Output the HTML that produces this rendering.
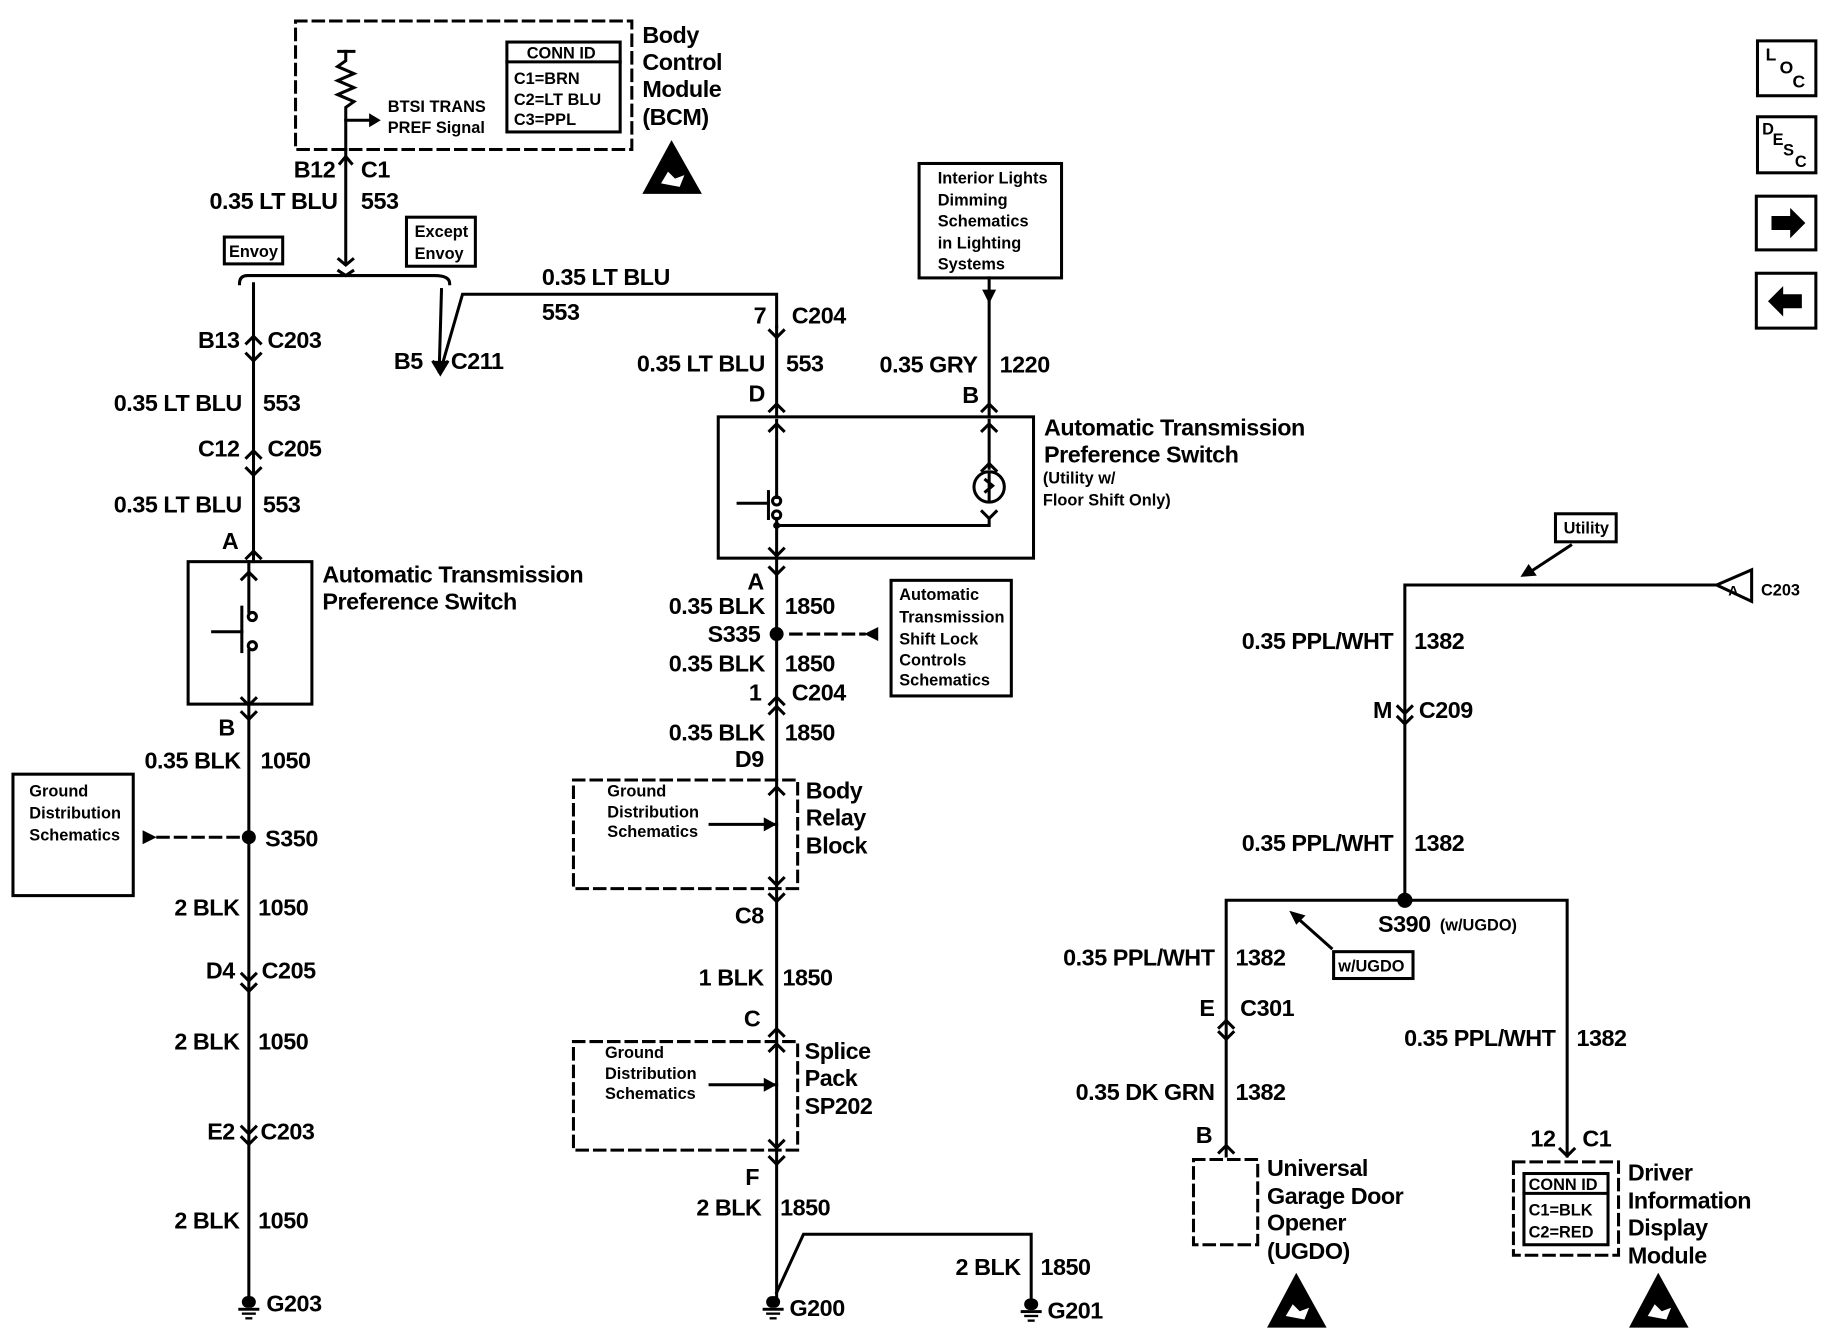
<!DOCTYPE html>
<html><head><meta charset="utf-8"><style>
html,body{margin:0;padding:0;background:#fff;}
svg{display:block}
text{font-family:"Liberation Sans",Arial,sans-serif;font-weight:bold;fill:#000}
.l{font-size:20px;letter-spacing:-0.4px}
.s{font-size:14px}
.m{font-size:15px}
</style></head><body>
<svg width="1830" height="1344" viewBox="0 0 1567 1151" xmlns="http://www.w3.org/2000/svg">
<g stroke="#000" stroke-width="2.6" fill="none" stroke-linecap="square">
<rect x="253" y="18" width="288" height="110" stroke-dasharray="9,6"/>
<rect x="434" y="36" width="97" height="77"/>
<line x1="434" y1="53" x2="531" y2="53"/>
<line x1="290" y1="44" x2="303" y2="44"/>
<polyline points="296,44 296,52 289,57 303,63 289,69 303,75 289,81 303,87 296,92 296,128"/>
<line x1="296" y1="103" x2="318" y2="103"/>
<line x1="296" y1="128" x2="296" y2="225"/>
<polyline points="291,140 296,134 301,140"/>
<polyline points="290,222 296,227 302,222"/>
<path d="M205,243 Q205,236 212,236 L372,236 Q385,236 385,243"/>
<polyline points="290,232 296,236 302,232"/>
<rect x="192" y="203" width="50" height="23"/>
<rect x="348" y="186" width="59" height="42"/>
<polyline points="665,280 665,252 396,252 377,318"/>
<line x1="378" y1="248" x2="376" y2="318"/>
<polyline points="371,310 377,320 383,310"/>
<polyline points="659,283 665,289 671,283"/>
<line x1="217" y1="243" x2="217" y2="481"/>
<polyline points="211,294 217,288 223,294"/><polyline points="211,303 217,309 223,303"/>
<polyline points="211,392 217,386 223,392"/><polyline points="211,401 217,407 223,401"/>
<polyline points="211,478 217,472 223,478"/>
<rect x="161" y="481" width="106" height="122"/>
<line x1="213" y1="481" x2="213" y2="524"/>
<circle cx="216" cy="528" r="3.5"/><circle cx="216" cy="553" r="3.5"/>
<line x1="207" y1="520" x2="207" y2="558"/>
<line x1="182" y1="541" x2="207" y2="541"/>
<line x1="213" y1="557" x2="213" y2="603"/>
<polyline points="207,496 213,490 219,496"/>
<polyline points="207,598 213,604 219,598"/>
<polyline points="207,610 213,616 219,610"/>
<line x1="213" y1="603" x2="213" y2="1110"/>
<line x1="135" y1="717" x2="205" y2="717" stroke-dasharray="9,6"/>
<rect x="11" y="663" width="103" height="104"/>
<polyline points="207,834 213,840 219,834"/><polyline points="207,843 213,849 219,843"/>
<polyline points="207,965 213,971 219,965"/><polyline points="207,974 213,980 219,974"/>
<line x1="665" y1="280" x2="665" y2="357"/>
<polyline points="659,352 665,346 671,352"/>
<line x1="847" y1="238" x2="847" y2="357"/>
<polyline points="841,352 847,346 853,352"/>
<rect x="787" y="140" width="122" height="98"/>
<rect x="615" y="357" width="270" height="121"/>
<line x1="665" y1="360" x2="665" y2="426"/>
<polyline points="659,369 665,363 671,369"/>
<circle cx="665" cy="429" r="3.5"/><circle cx="665" cy="441" r="3.5"/>
<line x1="658" y1="421" x2="658" y2="444"/>
<line x1="632" y1="431" x2="658" y2="431"/>
<line x1="665" y1="444" x2="665" y2="478"/>
<polyline points="659,470 665,476 671,470"/>
<line x1="847" y1="360" x2="847" y2="401"/>
<polyline points="841,369 847,363 853,369"/>
<polyline points="841,403 847,397 853,403"/>
<circle cx="847" cy="417" r="13"/>
<path d="M847,406 L847,428 M844,411 L850,416 L844,421"/>
<polyline points="841,438 847,444 853,438"/>
<polyline points="665,450 847,450 847,444"/>
<line x1="665" y1="478" x2="665" y2="1113"/>
<polyline points="659,486 665,492 671,486"/>
<line x1="677" y1="543" x2="740" y2="543" stroke-dasharray="9,6"/>
<rect x="763" y="497" width="103" height="99"/>
<polyline points="659,603 665,597 671,603"/><polyline points="659,611 665,605 671,611"/>
<rect x="491" y="668" width="192" height="93" stroke-dasharray="9,6"/>
<line x1="608" y1="706" x2="665" y2="706"/>
<polyline points="659,680 665,674 671,680"/>
<polyline points="659,752 665,758 671,752"/>
<polyline points="659,766 665,772 671,766"/>
<rect x="491" y="892" width="192" height="93" stroke-dasharray="9,6"/>
<line x1="608" y1="929" x2="665" y2="929"/>
<polyline points="659,887 665,881 671,887"/>
<polyline points="659,900 665,894 671,900"/>
<polyline points="659,977 665,983 671,977"/>
<polyline points="659,991 665,997 671,991"/>
<polyline points="665,1107 688,1057 883,1057 883,1115"/>
<polyline points="1470,501 1203,501 1203,771"/>
<polyline points="1197,605 1203,611 1209,605"/><polyline points="1197,614 1203,620 1209,614"/>
<polyline points="1050,990 1050,771 1342,771 1342,990"/>
<rect x="1332" y="440" width="52" height="24"/>
<line x1="1345" y1="467" x2="1310" y2="490"/>
<rect x="1142" y="815" width="68" height="23"/>
<line x1="1140" y1="812" x2="1112" y2="787"/>
<polyline points="1044,880 1050,874 1056,880"/><polyline points="1044,884 1050,890 1056,884"/>
<polyline points="1044,987 1050,981 1056,987"/>
<polyline points="1336,984 1342,990 1348,984"/>
<rect x="1022" y="993" width="55" height="73" stroke-dasharray="9,6"/>
<rect x="1296" y="995" width="90" height="80" stroke-dasharray="9,6"/>
<rect x="1305" y="1005" width="72" height="61"/>
<line x1="1305" y1="1022" x2="1377" y2="1022"/>
<rect x="1505" y="35" width="50" height="47"/>
<rect x="1505" y="100" width="50" height="48"/>
<rect x="1504" y="168" width="51" height="46"/>
<rect x="1504" y="234" width="51" height="47"/>
</g>
<g fill="#000">
<polygon points="326,103 316,97 316,109"/>
<polygon points="377,320 371,309 383,309"/>
<polygon points="134,717 122,711 122,723"/>
<polygon points="740,543 752,537 752,549"/>
<polygon points="847,260 841,248 853,248"/>
<polygon points="665,706 654,700 654,712"/>
<polygon points="665,929 654,923 654,935"/>
<polygon points="1302,494 1316,493 1309,483"/>
<polygon points="1104,780 1118,784 1110,792"/>
<circle cx="213" cy="717" r="6"/>
<circle cx="665" cy="543" r="6"/>
<circle cx="1203" cy="771" r="6.5"/>
<circle cx="665" cy="450" r="3"/>
<polygon points="1517,185 1533,185 1533,178 1546,191 1533,204 1533,197 1517,197"/>
<polygon points="1543,252 1527,252 1527,245 1514,258 1527,271 1527,264 1543,264"/>
<g transform="translate(213,1110)"><rect x="-6" y="0" width="12" height="10" rx="5"/><rect x="-9" y="10" width="18" height="2.5"/><rect x="-6" y="14" width="12" height="2"/><rect x="-3" y="18" width="6" height="2"/></g>
<g transform="translate(662,1110)"><rect x="-6" y="0" width="12" height="10" rx="5"/><rect x="-9" y="10" width="18" height="2.5"/><rect x="-6" y="14" width="12" height="2"/><rect x="-3" y="18" width="6" height="2"/></g>
<g transform="translate(883,1112)"><rect x="-6" y="0" width="12" height="10" rx="5"/><rect x="-9" y="10" width="18" height="2.5"/><rect x="-6" y="14" width="12" height="2"/><rect x="-3" y="18" width="6" height="2"/></g>
<polygon points="575,120 550,166 601,166"/>
<polygon points="1110,1090 1085,1137 1136,1137"/>
<polygon points="1420,1090 1395,1137 1446,1137"/>
</g>
<g fill="#fff"><path d="M566,157 l6,-10 l6,6 l8,-3 l-4,10z"/><path d="M1101,1127 l6,-10 l6,6 l8,-3 l-4,10z"/><path d="M1411,1127 l6,-10 l6,6 l8,-3 l-4,10z"/></g>
<polygon points="1470,501 1500,488 1500,515" fill="#fff" stroke="#000" stroke-width="2.6"/>

<text class="l" x="550" y="37">Body</text><text class="l" x="550" y="60">Control</text><text class="l" x="550" y="83">Module</text><text class="l" x="550" y="107">(BCM)</text>
<text class="s" x="451" y="50">CONN ID</text>
<text class="s" x="440" y="72">C1=BRN</text><text class="s" x="440" y="90">C2=LT BLU</text><text class="s" x="440" y="107">C3=PPL</text>
<text class="s" x="332" y="96">BTSI TRANS</text><text class="s" x="332" y="114">PREF Signal</text>
<text class="l" x="287" y="152" text-anchor="end">B12</text><text class="l" x="309" y="152">C1</text>
<text class="l" x="289" y="179" text-anchor="end">0.35 LT BLU</text><text class="l" x="309" y="179">553</text>
<text class="s" x="196" y="220">Envoy</text>
<text class="s" x="355" y="203">Except</text><text class="s" x="355" y="222">Envoy</text>
<text class="l" x="464" y="244">0.35 LT BLU</text><text class="l" x="464" y="274">553</text>
<text class="l" x="205" y="298" text-anchor="end">B13</text><text class="l" x="229" y="298">C203</text>
<text class="l" x="362" y="316" text-anchor="end">B5</text><text class="l" x="386" y="316">C211</text>
<text class="l" x="207" y="352" text-anchor="end">0.35 LT BLU</text><text class="l" x="225" y="352">553</text>
<text class="l" x="205" y="391" text-anchor="end">C12</text><text class="l" x="229" y="391">C205</text>
<text class="l" x="207" y="439" text-anchor="end">0.35 LT BLU</text><text class="l" x="225" y="439">553</text>
<text class="l" x="204" y="470" text-anchor="end">A</text>
<text class="l" x="276" y="499">Automatic Transmission</text><text class="l" x="276" y="522">Preference Switch</text>
<text class="l" x="201" y="630" text-anchor="end">B</text>
<text class="l" x="206" y="658" text-anchor="end">0.35 BLK</text><text class="l" x="223" y="658">1050</text>
<text class="s" x="25" y="682">Ground</text><text class="s" x="25" y="701">Distribution</text><text class="s" x="25" y="720">Schematics</text>
<text class="l" x="227" y="725">S350</text>
<text class="l" x="205" y="784" text-anchor="end">2 BLK</text><text class="l" x="221" y="784">1050</text>
<text class="l" x="201" y="838" text-anchor="end">D4</text><text class="l" x="224" y="838">C205</text>
<text class="l" x="205" y="899" text-anchor="end">2 BLK</text><text class="l" x="221" y="899">1050</text>
<text class="l" x="201" y="976" text-anchor="end">E2</text><text class="l" x="223" y="976">C203</text>
<text class="l" x="205" y="1052" text-anchor="end">2 BLK</text><text class="l" x="221" y="1052">1050</text>
<text class="l" x="228" y="1123">G203</text>
<text class="l" x="656" y="277" text-anchor="end">7</text><text class="l" x="678" y="277">C204</text>
<text class="s" x="803" y="157">Interior Lights</text><text class="s" x="803" y="176">Dimming</text><text class="s" x="803" y="194">Schematics</text><text class="s" x="803" y="213">in Lighting</text><text class="s" x="803" y="231">Systems</text>
<text class="l" x="655" y="318" text-anchor="end">0.35 LT BLU</text><text class="l" x="673" y="318">553</text>
<text class="l" x="837" y="319" text-anchor="end">0.35 GRY</text><text class="l" x="856" y="319">1220</text>
<text class="l" x="655" y="344" text-anchor="end">D</text><text class="l" x="838" y="345" text-anchor="end">B</text>
<text class="l" x="894" y="373">Automatic Transmission</text><text class="l" x="894" y="396">Preference Switch</text>
<text class="s" x="893" y="414">(Utility w/</text><text class="s" x="893" y="433">Floor Shift Only)</text>
<text class="l" x="654" y="505" text-anchor="end">A</text>
<text class="l" x="655" y="526" text-anchor="end">0.35 BLK</text><text class="l" x="672" y="526">1850</text>
<text class="l" x="651" y="550" text-anchor="end">S335</text>
<text class="s" x="770" y="514">Automatic</text><text class="s" x="770" y="533">Transmission</text><text class="s" x="770" y="552">Shift Lock</text><text class="s" x="770" y="570">Controls</text><text class="s" x="770" y="587">Schematics</text>
<text class="l" x="655" y="575" text-anchor="end">0.35 BLK</text><text class="l" x="672" y="575">1850</text>
<text class="l" x="652" y="600" text-anchor="end">1</text><text class="l" x="678" y="600">C204</text>
<text class="l" x="655" y="634" text-anchor="end">0.35 BLK</text><text class="l" x="672" y="634">1850</text>
<text class="l" x="654" y="657" text-anchor="end">D9</text>
<text class="s" x="520" y="682">Ground</text><text class="s" x="520" y="700">Distribution</text><text class="s" x="520" y="717">Schematics</text>
<text class="l" x="690" y="684">Body</text><text class="l" x="690" y="707">Relay</text><text class="l" x="690" y="731">Block</text>
<text class="l" x="654" y="791" text-anchor="end">C8</text>
<text class="l" x="654" y="844" text-anchor="end">1 BLK</text><text class="l" x="670" y="844">1850</text>
<text class="l" x="651" y="879" text-anchor="end">C</text>
<text class="s" x="518" y="906">Ground</text><text class="s" x="518" y="924">Distribution</text><text class="s" x="518" y="941">Schematics</text>
<text class="l" x="689" y="907">Splice</text><text class="l" x="689" y="930">Pack</text><text class="l" x="689" y="954">SP202</text>
<text class="l" x="650" y="1015" text-anchor="end">F</text>
<text class="l" x="652" y="1041" text-anchor="end">2 BLK</text><text class="l" x="668" y="1041">1850</text>
<text class="l" x="874" y="1092" text-anchor="end">2 BLK</text><text class="l" x="891" y="1092">1850</text>
<text class="l" x="676" y="1127">G200</text><text class="l" x="897" y="1129">G201</text>
<text class="s" x="1339" y="457">Utility</text>
<text class="l" x="1480" y="510" style="font-size:12px">A</text><text class="s" x="1508" y="510">C203</text>
<text class="l" x="1193" y="556" text-anchor="end">0.35 PPL/WHT</text><text class="l" x="1211" y="556">1382</text>
<text class="l" x="1192" y="615" text-anchor="end">M</text><text class="l" x="1215" y="615">C209</text>
<text class="l" x="1193" y="729" text-anchor="end">0.35 PPL/WHT</text><text class="l" x="1211" y="729">1382</text>
<text class="l" x="1180" y="798">S390</text><text class="s" x="1233" y="797">(w/UGDO)</text>
<text class="s" x="1146" y="832">w/UGDO</text>
<text class="l" x="1040" y="827" text-anchor="end">0.35 PPL/WHT</text><text class="l" x="1058" y="827">1382</text>
<text class="l" x="1040" y="870" text-anchor="end">E</text><text class="l" x="1062" y="870">C301</text>
<text class="l" x="1040" y="942" text-anchor="end">0.35 DK GRN</text><text class="l" x="1058" y="942">1382</text>
<text class="l" x="1038" y="979" text-anchor="end">B</text>
<text class="l" x="1085" y="1007">Universal</text><text class="l" x="1085" y="1031">Garage Door</text><text class="l" x="1085" y="1054">Opener</text><text class="l" x="1085" y="1078">(UGDO)</text>
<text class="l" x="1332" y="896" text-anchor="end">0.35 PPL/WHT</text><text class="l" x="1350" y="896">1382</text>
<text class="l" x="1332" y="982" text-anchor="end">12</text><text class="l" x="1355" y="982">C1</text>
<text class="s" x="1309" y="1019">CONN ID</text>
<text class="s" x="1309" y="1041">C1=BLK</text><text class="s" x="1309" y="1060">C2=RED</text>
<text class="l" x="1394" y="1011">Driver</text><text class="l" x="1394" y="1035">Information</text><text class="l" x="1394" y="1058">Display</text><text class="l" x="1394" y="1082">Module</text>
<text class="m" x="1512" y="52">L</text><text class="m" x="1524" y="63">O</text><text class="m" x="1535" y="75">C</text>
<text class="s" x="1509" y="115">D</text><text class="s" x="1518" y="124">E</text><text class="s" x="1527" y="133">S</text><text class="s" x="1537" y="143">C</text>
</svg>
</body></html>
